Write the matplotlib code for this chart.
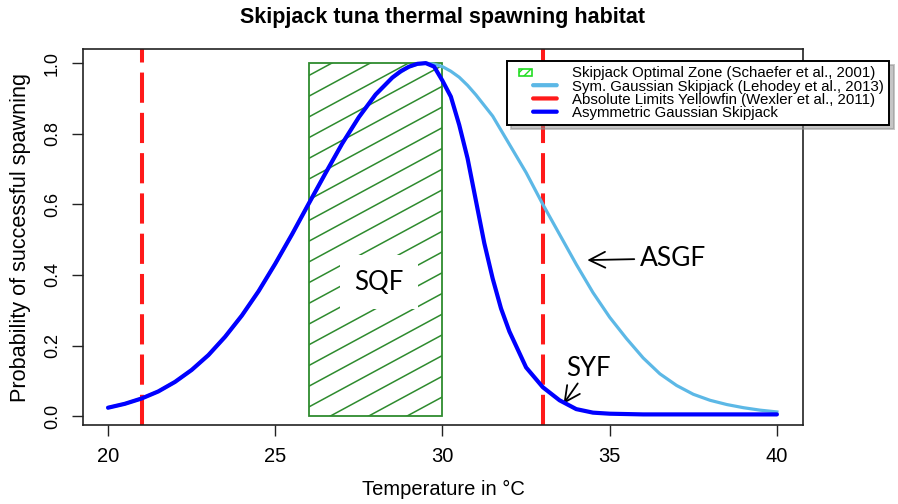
import numpy as np
import matplotlib

matplotlib.use("Agg")
import matplotlib.pyplot as plt
from matplotlib import font_manager
from matplotlib.patches import Patch, Rectangle, FancyBboxPatch
from matplotlib.legend_handler import HandlerPatch

# ---- data ----
temp_sym = [20.0, 20.5, 21.0, 21.5, 22.0, 22.5, 23.0, 23.5, 24.0, 24.5,
            25.0, 25.5, 26.0, 26.5, 27.0, 27.5, 28.0, 28.5, 29.0, 29.25,
            29.5, 29.75, 30.0, 30.25, 30.5, 30.75, 31.0, 31.5, 32.0, 32.5,
            33.0, 33.5, 34.0, 34.5, 35.0, 35.5, 36.0, 36.5, 37.0, 37.5,
            38.0, 38.5, 39.0, 39.5, 40.0]
p_sym = [0.024, 0.035, 0.050, 0.070, 0.097, 0.131, 0.173, 0.225, 0.285, 0.354,
         0.432, 0.515, 0.602, 0.688, 0.772, 0.847, 0.911, 0.959, 0.990, 0.997,
         1.000, 0.997, 0.990, 0.977, 0.960, 0.937, 0.910, 0.850, 0.770, 0.690,
         0.600, 0.515, 0.430, 0.350, 0.280, 0.220, 0.165, 0.120, 0.087, 0.062,
         0.045, 0.033, 0.024, 0.017, 0.012]

temp_asym = [20.0, 20.5, 21.0, 21.5, 22.0, 22.5, 23.0, 23.5, 24.0, 24.5,
             25.0, 25.5, 26.0, 26.5, 27.0, 27.5, 28.0, 28.5, 28.75, 29.0,
             29.25, 29.5, 29.75, 30.0, 30.25, 30.5, 30.75, 31.0, 31.25, 31.5,
             31.75, 32.0, 32.5, 33.0, 33.5, 34.0, 34.5, 35.0, 36.0, 37.0,
             38.0, 39.0, 40.0]
p_asym = [0.024, 0.035, 0.050, 0.070, 0.097, 0.131, 0.173, 0.225, 0.285, 0.354,
          0.432, 0.515, 0.602, 0.688, 0.772, 0.847, 0.911, 0.959, 0.977, 0.990,
          0.998, 1.000, 0.990, 0.950, 0.905, 0.825, 0.730, 0.610, 0.490, 0.390,
          0.305, 0.240, 0.138, 0.082, 0.045, 0.020, 0.010, 0.007, 0.005, 0.005,
          0.005, 0.005, 0.005]

yellowfin_limits = [21.0, 33.0]
optimal_zone = (26.0, 30.0)

legend_labels = [
    "Skipjack Optimal Zone (Schaefer et al., 2001)",
    "Sym. Gaussian Skipjack (Lehodey et al., 2013)",
    "Absolute Limits Yellowfin (Wexler et al., 2011)",
    "Asymmetric Gaussian Skipjack",
]

LIGHT_BLUE = "#5cb8e6"
DARK_BLUE = "#0000ff"
RED = "#ff1a1a"
GREEN = "#2e8b2e"

names = {f.name for f in font_manager.fontManager.ttflist}
CALIBRI = "Lato" if "Lato" in names else "DejaVu Sans"
plt.rcParams["font.family"] = ["Liberation Sans", "DejaVu Sans"]

fig = plt.figure(figsize=(8.98, 5.04), dpi=100)
ax = fig.add_axes([83 / 898, 1 - 425 / 504, 720 / 898, 376 / 504])

ax.set_xlim(19.25, 40.78)
ax.set_ylim(-0.025, 1.04)

# optimal zone with shallow hatching
z0, z1 = optimal_zone
rect = Rectangle((z0, 0), z1 - z0, 1.0, facecolor="none", edgecolor=GREEN,
                 linewidth=1.3, zorder=2)
ax.add_patch(rect)
slope = 0.0512
step = 1.146
for k in range(-25, 6):
    x0 = 26.64 + k * step
    xs = np.array([z0, z1])
    hl, = ax.plot(xs, slope * (xs - x0), color=GREEN, lw=1.1, zorder=1.5)
    hl.set_clip_path(rect)

ax.text(28.1, 0.38, "SQF", fontsize=18.5, family=CALIBRI, ha="center", va="center",
        zorder=3, bbox=dict(boxstyle="square,pad=0.55", fc="white", ec="none"))

for xv in yellowfin_limits:
    ax.axvline(xv, color=RED, lw=2.9, dashes=(7.5, 2.5), zorder=2.5)

ax.plot(temp_sym, p_sym, color=LIGHT_BLUE, lw=2.3, zorder=4,
        solid_joinstyle="round")
ax.plot(temp_asym, p_asym, color=DARK_BLUE, lw=3.0, zorder=5,
        solid_capstyle="round", solid_joinstyle="round")

ax.annotate("ASGF", xy=(34.33, 0.442), xytext=(35.9, 0.447),
            fontsize=19, family=CALIBRI, ha="left", va="center",
            arrowprops=dict(arrowstyle="->,head_length=0.6,head_width=0.3",
                            color="black", lw=1.3, shrinkA=2, shrinkB=0))
ax.annotate("SYF", xy=(33.62, 0.035), xytext=(34.36, 0.136),
            fontsize=18.5, family=CALIBRI, ha="center", va="center",
            arrowprops=dict(arrowstyle="->,head_length=0.6,head_width=0.3",
                            color="black", lw=1.3, shrinkA=0, shrinkB=0))

# R-style axes
ax.set_xticks([20, 25, 30, 35, 40])
ax.set_yticks([0.0, 0.2, 0.4, 0.6, 0.8, 1.0])
ax.set_yticklabels(["0.0", "0.2", "0.4", "0.6", "0.8", "1.0"], rotation=90,
                   va="center", fontsize=13)
ax.set_xticklabels(["20", "25", "30", "35", "40"], fontsize=14.5)
ax.tick_params(direction="out", length=8, width=1.0, color="#222222")
ax.tick_params(axis="x", pad=8)
ax.tick_params(axis="y", pad=8)
for sp in ax.spines.values():
    sp.set_linewidth(1.2)
    sp.set_color("#222222")

ax.set_xlabel("Temperature in \u00b0C", fontsize=14.5, labelpad=10)
ax.set_ylabel("Probability of successful spawning", fontsize=15.6, labelpad=9)
ax.set_title("Skipjack tuna thermal spawning habitat",
             fontweight="bold", fontsize=15.5, pad=19)


def zone_box(legend, orig_handle, xdescent, ydescent, width, height, fontsize):
    return Rectangle((-xdescent + width * 0.14, -ydescent + height * 0.05),
                     width * 0.26, height * 0.75)


def bar_handle(legend, orig_handle, xdescent, ydescent, width, height, fontsize):
    h = 0.28 * fontsize
    return FancyBboxPatch((-xdescent + width * 0.38, -ydescent + height / 2 - h / 2),
                          width * 0.56, h,
                          boxstyle=f"round,pad=0,rounding_size={h / 2}")


handles = [
    Patch(facecolor="white", edgecolor="#22dd22", hatch="////", linewidth=1.2),
    Patch(facecolor=LIGHT_BLUE, edgecolor="none"),
    Patch(facecolor=RED, edgecolor="none"),
    Patch(facecolor=DARK_BLUE, edgecolor="none"),
]
leg = fig.legend(handles, legend_labels, loc="upper left",
                 bbox_to_anchor=(507 / 898, 1 - 61 / 504), borderaxespad=0,
                 prop={"size": 10.8}, labelspacing=-0.05, handleheight=0.55,
                 handlelength=3.3, handletextpad=0.7, borderpad=0.35,
                 fancybox=False, shadow={"ox": 3, "oy": -3, "color": "0.55"},
                 framealpha=1,
                 handler_map={handles[0]: HandlerPatch(patch_func=zone_box),
                              handles[1]: HandlerPatch(patch_func=bar_handle),
                              handles[2]: HandlerPatch(patch_func=bar_handle),
                              handles[3]: HandlerPatch(patch_func=bar_handle)})
leg.get_frame().set_edgecolor("black")
leg.get_frame().set_linewidth(1.4)

fig.savefig("out.png", dpi=100)
